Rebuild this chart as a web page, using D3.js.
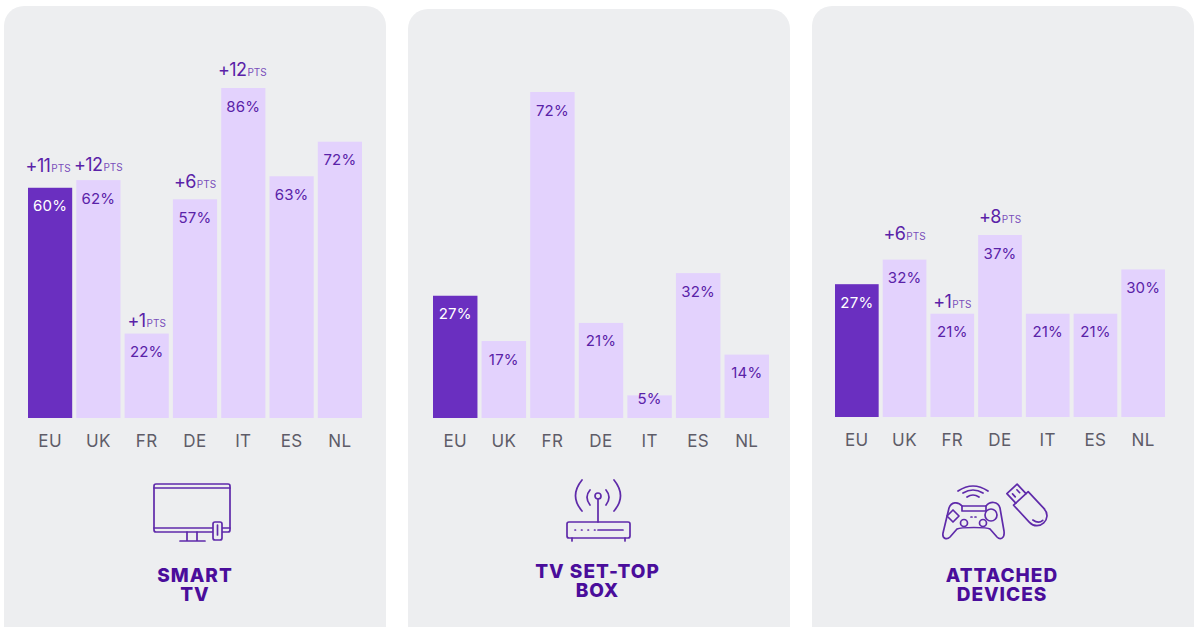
<!DOCTYPE html>
<html><head><meta charset="utf-8">
<script src="https://cdn.jsdelivr.net/npm/d3@7"></script>
<style>html,body{margin:0;background:#fff}svg{display:block}text{font-family:Inter,"Noto Sans",sans-serif}</style>
</head><body><svg id="c" width="1197" height="627"></svg>
<script>
const categories = ["EU","UK","FR","DE","IT","ES","NL"];
const smartTv = [60,62,22,57,86,63,72];
const setTop = [27,17,72,21,5,32,14];
const attached = [27,32,21,37,21,21,30];
const smartTvDelta = ["+11","+12","+1","+6","+12",null,null];
const setTopDelta = [null,null,null,null,null,null,null];
const attachedDelta = [null,"+6","+1","+8",null,null,null];
const titleSmart = ["SMART","TV"];
const titleSetTop = ["TV SET-TOP","BOX"];
const titleAttached = ["ATTACHED","DEVICES"];

const PANEL="#edeef0", DARK="#6a2fc0", LIGHT="#e3d2fd", TXT="#5a22a8", TITLE="#4a0d9b", ICON="#5f2aaa";
const svg=d3.select("#c");
const panels=[
 {x:4,y:6,x0:28,x1:362,base:418,top:88,ref:86,vals:smartTv,del:smartTvDelta,gap:[22,15,13,17,18,0,0],nudge:[-2,0,0,0,-1,0,0],t:titleSmart,ty:575,icon:tv,ic:[192,514],cx:195},
 {x:408,y:9,x0:433,x1:769,base:418,top:92,ref:72,vals:setTop,del:setTopDelta,gap:[],nudge:[],t:titleSetTop,ty:571,icon:router,ic:[598,512],cx:597.5},
 {x:812,y:6,x0:835,x1:1165,base:417,top:235,ref:37,vals:attached,del:attachedDelta,gap:[0,26,12,18,0,0,0],nudge:[0,0,0,0,0,0,0],t:titleAttached,ty:575,icon:devices,ic:[973,515],cx:1002}
];
panels.forEach(p=>{
 svg.append("rect").attr("x",p.x).attr("y",p.y).attr("width",382).attr("height",660).attr("rx",20).attr("fill",PANEL);
 const x=d3.scaleBand().domain(categories).range([p.x0,p.x1]).paddingInner(0.085).paddingOuter(0);
 const y=d3.scaleLinear().domain([0,p.ref]).range([p.base,p.top]);
 const g=svg.append("g");
 g.selectAll("rect").data(p.vals).join("rect")
  .attr("x",(d,i)=>x(categories[i])).attr("width",x.bandwidth())
  .attr("y",d=>y(d)).attr("height",d=>p.base-y(d))
  .attr("fill",(d,i)=>i===0?DARK:LIGHT);
 g.selectAll("text.v").data(p.vals).join("text").attr("class","v")
  .attr("x",(d,i)=>x(categories[i])+x.bandwidth()/2).attr("y",d=>y(d)+(d<8?8.5:23.5))
  .attr("text-anchor","middle").attr("font-size",15).attr("letter-spacing",0.2)
  .attr("fill",(d,i)=>i===0?"#fff":TXT).text(d=>d+"%");
 const axis=d3.axisBottom(x).tickSize(0).tickPadding(17);
 const ax=svg.append("g").attr("transform",`translate(0,${p.base})`).call(axis);
 ax.select(".domain").remove();
 ax.selectAll("text").attr("font-size",17).attr("font-family","Inter,sans-serif").attr("letter-spacing",0.4).attr("fill","#5e5c68");
 p.del.forEach((d,i)=>{ if(!d) return;
  const t=svg.append("text").attr("x",x(categories[i])+x.bandwidth()/2+p.nudge[i]).attr("y",y(p.vals[i])-p.gap[i]+6)
   .attr("text-anchor","middle").attr("fill",TXT);
  t.append("tspan").attr("font-size",18).attr("letter-spacing",-0.6).text(d);
  t.append("tspan").attr("font-size",10).attr("dx",1).attr("fill","#7a4fbb").text("PTS");
 });
 p.icon(svg.append("g").attr("transform",`translate(${p.ic[0]},${p.ic[1]})`)
   .attr("fill","none").attr("stroke",ICON).attr("stroke-width",1.7).attr("stroke-linecap","round").attr("stroke-linejoin","round"));
 svg.append("g").selectAll("text").data(p.t).join("text")
  .attr("x",p.cx).attr("y",(d,i)=>p.ty+7+i*18.7).attr("text-anchor","middle")
  .attr("font-size",19).attr("font-weight",800).attr("letter-spacing",1).attr("fill",TITLE).text(d=>d);
});
function tv(g){
 g.append("rect").attr("x",-38).attr("y",-30).attr("width",76).attr("height",48).attr("rx",2);
 g.append("path").attr("d","M-38,-26H38M-38,14H21M30,14H38M-5,18V27M5,18V27M-12,27H13");
 g.append("rect").attr("x",21).attr("y",8).attr("width",9).attr("height",18).attr("rx",2).attr("fill",PANEL);
 g.append("path").attr("d","M25.5,11V21");
}
function router(g){
 g.append("rect").attr("x",-31).attr("y",10).attr("width",63).attr("height",16).attr("rx",2);
 g.append("circle").attr("cy",-16).attr("r",3);
 g.append("path").attr("d","M0,-13V10M-26,26V29M27,26V29M0,18H25");
 g.append("path").attr("stroke-dasharray","0.5 6").attr("d","M-23,18H-3");
 g.append("path").attr("d","M-8,-22Q-14,-15 -8,-7M8,-22Q14,-15 8,-7M-16,-32Q-29,-16 -16,-1M16,-32Q29,-16 16,-1");
}
function devices(g){
 g.append("path").attr("d","M-30,18L-24,-7C-22,-13 -15,-14 -11,-9L13,-9C17,-14 25,-14 27,-7L31,16C32,24 27,25 24,22L17,14C14,12 -12,12 -16,14L-23,22C-26,25 -31,24 -30,18Z");
 g.append("path").attr("d","M-6,-18Q0,-22 6,-18M-10,-22Q0,-28 10,-22M-15,-24Q0,-34 15,-24M-11,-9V-4H13V-9");
 g.append("path").attr("d","M-20,-5L-14,1L-20,7L-26,1Z");
 g.append("circle").attr("cx",-9).attr("cy",8).attr("r",3.5);
 g.append("circle").attr("cx",10).attr("cy",8).attr("r",3.5);
 g.append("circle").attr("cx",18).attr("cy",0).attr("r",6);
 g.append("path").attr("stroke-dasharray","1 3").attr("d","M-2,2H5");
 const u=g.append("g").attr("transform","translate(54,-10) rotate(47)");
 u.append("path").attr("d","M-9,-7H-22V7H-9");
 u.append("path").attr("d","M-9,-10V10H14C28,10 28,-10 14,-10ZM-18,-3H-14M-18,3H-14M15,6C20,5 22,2 22,-1");
}
</script></body></html>
